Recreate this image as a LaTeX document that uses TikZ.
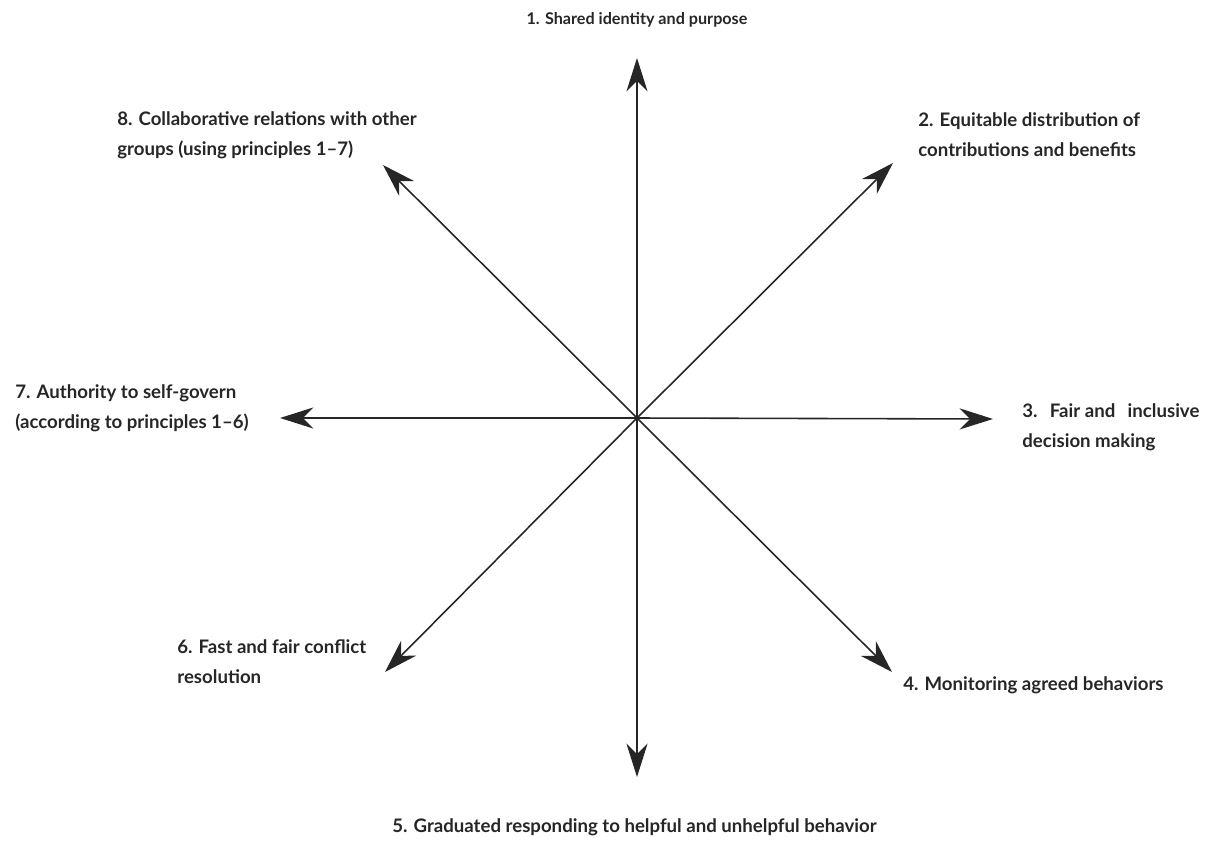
\documentclass[tikz,border=0pt]{standalone}
\usepackage{fontspec}
\setmainfont{Lato}
\usepackage{tikz}
\usetikzlibrary{arrows.meta}

\begin{document}
\begin{tikzpicture}[
    >={Stealth[length=19pt, width=12pt, inset=6pt]},
    arr/.style={->, line width=0.9pt, black!85},
    lbl/.style={font=\fontsize{10.6}{17}\selectfont\bfseries, text=black!85,
        align=left, anchor=west, inner sep=0pt}
]

% ---------------- Frame ----------------
\useasboundingbox (-12.74,-8.46) rectangle (11.48,8.36);

% ---------------- Hub and arrow tips ----------------
\coordinate (hub) at (0,0);
\coordinate (t1) at (0,7.2);
\coordinate (t2) at (5.12,5.1);
\coordinate (t3) at (7.12,-0.02);
\coordinate (t4) at (5.1,-5.08);
\coordinate (t5) at (0,-7.18);
\coordinate (t6) at (-5.04,-5.08);
\coordinate (t7) at (-7.14,0);
\coordinate (t8) at (-5.08,5.06);

\draw[arr] (hub) -- (t1);
\draw[arr] (hub) -- (t2);
\draw[arr] (hub) -- (t3);
\draw[arr] (hub) -- (t4);
\draw[arr] (hub) -- (t5);
\draw[arr] (hub) -- (t6);
\draw[arr] (hub) -- (t7);
\draw[arr] (hub) -- (t8);

% ---------------- Principles ----------------
\node[lbl, anchor=center, font=\fontsize{9.2}{17}\selectfont\bfseries] (p1) at (0,7.96) {1. Shared identity and purpose};
\node[lbl] (p2) at (5.62,5.66) {2. Equitable distribution of\\contributions and benefits};
\node[lbl] (p3) at (7.70,-0.18) {3.\hspace{7pt}Fair and\hspace{7pt}inclusive\\decision making};
\node[lbl] (p4) at (5.32,-5.34) {4. Monitoring agreed behaviors};
\node[lbl] (p5) at (-4.90,-8.18) {5. Graduated responding to helpful and unhelpful behavior};
\node[lbl] (p6) at (-9.20,-4.88) {6. Fast and fair conflict\\resolution};
\node[lbl] (p7) at (-12.44,0.20) {7. Authority to self-govern\\(according to principles 1--6)};
\node[lbl] (p8) at (-10.40,5.66) {8. Collaborative relations with other\\groups (using principles 1--7)};

\end{tikzpicture}
\end{document}
